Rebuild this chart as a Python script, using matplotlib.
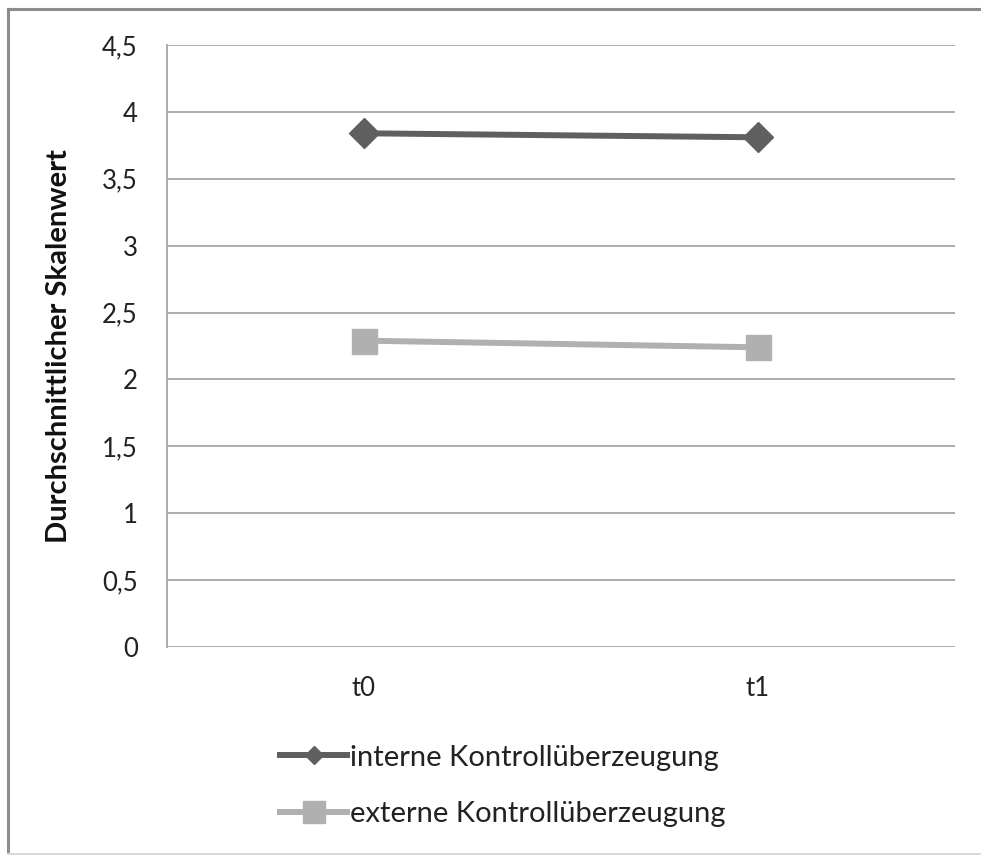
import matplotlib
matplotlib.use("Agg")
import matplotlib.pyplot as plt
from matplotlib.lines import Line2D

# Data
zeitpunkte = ["t0", "t1"]
interne = [3.84, 3.81]
externe = [2.29, 2.24]
serien_namen = ["interne Kontrollüberzeugung", "externe Kontrollüberzeugung"]
y_ticks = [0, 0.5, 1, 1.5, 2, 2.5, 3, 3.5, 4, 4.5]
y_tick_labels = ["0", "0,5", "1", "1,5", "2", "2,5", "3", "3,5", "4", "4,5"]

plt.rcParams["font.family"] = ["Lato", "DejaVu Sans"]

farbe_intern = "#5f5f5f"
farbe_extern = "#b0b0b0"
grid_farbe = "#a6a6a6"
text_farbe = "#222222"
fs = 18.5
fs_gross = 21

fig = plt.figure(figsize=(9.81, 8.55), dpi=100)
ax = fig.add_axes([167 / 981, 1 - 647 / 855, (955 - 167) / 981, (647 - 45) / 855])

x = list(range(len(zeitpunkte)))
ax.plot(x, interne, color=farbe_intern, lw=4.3, marker="D", ms=15,
        mfc=farbe_intern, mec=farbe_intern, solid_capstyle="butt", zorder=3)
ax.plot(x, externe, color=farbe_extern, lw=4.3, marker="s", ms=18,
        mfc=farbe_extern, mec=farbe_extern, solid_capstyle="butt", zorder=3)

ax.set_xlim(-0.5, 1.5)
ax.set_ylim(0, 4.5)
ax.set_xticks(x)
ax.set_xticklabels(zeitpunkte, fontsize=fs, color=text_farbe)
ax.set_yticks(y_ticks)
ax.set_yticklabels(y_tick_labels, fontsize=fs, color=text_farbe)
ax.tick_params(axis="both", length=0)
ax.tick_params(axis="y", pad=21)
ax.tick_params(axis="x", pad=21)

ax.grid(axis="y", color=grid_farbe, lw=1.3)
ax.set_axisbelow(True)
for s in ["top", "right", "bottom"]:
    ax.spines[s].set_visible(False)
ax.spines["left"].set_color(grid_farbe)
ax.spines["left"].set_linewidth(1.3)

ax.set_ylabel("Durchschnittlicher Skalenwert", fontsize=fs_gross, fontweight="bold",
              color="#111111")
ax.yaxis.set_label_coords(-(167 - 72) / 788, 0.5)

# Legend with smaller markers
handles = [
    Line2D([], [], color=farbe_intern, lw=4.3, marker="D", ms=9,
           mfc=farbe_intern, mec=farbe_intern),
    Line2D([], [], color=farbe_extern, lw=4.3, marker="s", ms=16,
           mfc=farbe_extern, mec=farbe_extern),
]
fig.legend(handles, serien_namen, loc="center left",
           bbox_to_anchor=(254 / 981, 1 - 786 / 855), frameon=False,
           fontsize=fs_gross, handlelength=2.3, handletextpad=0.1,
           labelspacing=1.05, labelcolor=text_farbe)

# Outer frame
fig.add_artist(Line2D([8 / 981, 8 / 981], [1 - 853 / 855, 1 - 9 / 855],
                      transform=fig.transFigure, color="#8c8c8c", lw=2.2))
fig.add_artist(Line2D([8 / 981, 1.0], [1 - 9 / 855, 1 - 9 / 855],
                      transform=fig.transFigure, color="#8c8c8c", lw=2.2))
fig.add_artist(Line2D([8 / 981, 1.0], [1 - 853.5 / 855, 1 - 853.5 / 855],
                      transform=fig.transFigure, color="#d9d9d9", lw=1.5))

fig.savefig("out.png", dpi=100)
